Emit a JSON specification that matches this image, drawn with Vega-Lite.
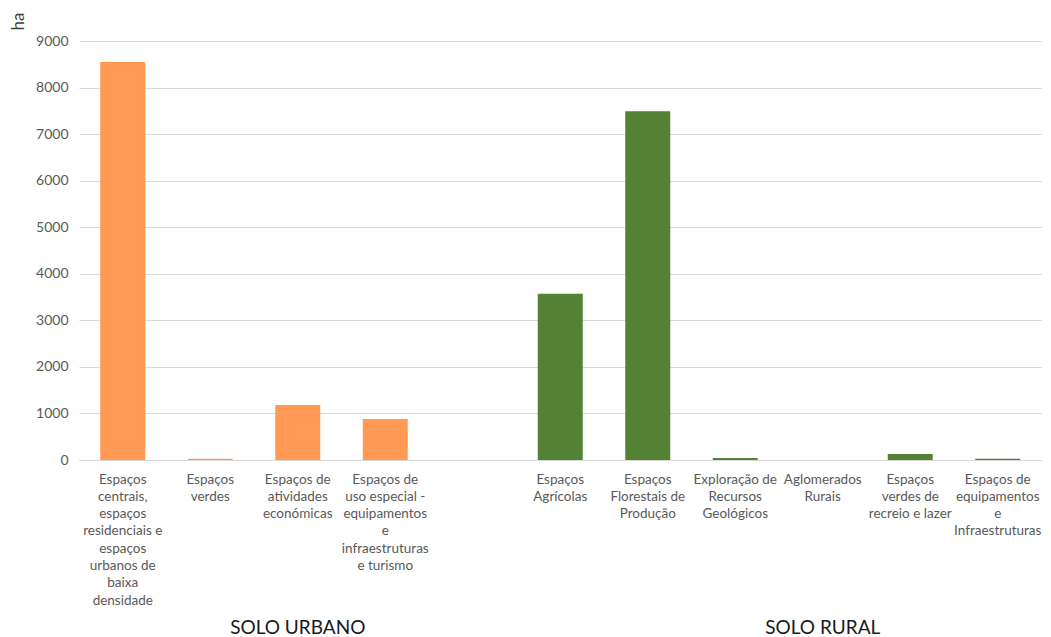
{
  "$schema": "https://vega.github.io/schema/vega-lite/v6.json",
  "width": 962.5,
  "height": 419,
  "autosize": {"type": "none"},
  "padding": {"left": 79, "top": 41, "right": 9.5, "bottom": 177},
  "background": "#ffffff",
  "config": {
    "view": {"stroke": null},
    "font": "Lato",
    "axis": {"labelFont": "Lato", "titleFont": "Lato"}
  },
  "datasets": {
    "areas": [
      {"categoria": "Espaços centrais, espaços residenciais e espaços urbanos de baixa densidade", "solo": "SOLO URBANO", "ha": 8550},
      {"categoria": "Espaços verdes", "solo": "SOLO URBANO", "ha": 25},
      {"categoria": "Espaços de atividades económicas", "solo": "SOLO URBANO", "ha": 1180},
      {"categoria": "Espaços de uso especial - equipamentos e infraestruturas e turismo", "solo": "SOLO URBANO", "ha": 880},
      {"categoria": "Espaços Agrícolas", "solo": "SOLO RURAL", "ha": 3570},
      {"categoria": "Espaços Florestais de Produção", "solo": "SOLO RURAL", "ha": 7490},
      {"categoria": "Exploração de Recursos Geológicos", "solo": "SOLO RURAL", "ha": 45},
      {"categoria": "Aglomerados Rurais", "solo": "SOLO RURAL", "ha": 0},
      {"categoria": "Espaços verdes de recreio e lazer", "solo": "SOLO RURAL", "ha": 130},
      {"categoria": "Espaços de equipamentos e Infraestruturas", "solo": "SOLO RURAL", "ha": 25}
    ],
    "grupos": [
      {"solo": "SOLO URBANO", "categoria": "Espaços de atividades económicas"},
      {"solo": "SOLO RURAL", "categoria": "Aglomerados Rurais"}
    ]
  },
  "layer": [
    {
      "data": {"name": "areas"},
      "mark": {"type": "bar"},
      "encoding": {
        "x": {
          "field": "categoria",
          "type": "nominal",
          "sort": null,
          "scale": {
            "domain": [
              "Espaços centrais, espaços residenciais e espaços urbanos de baixa densidade",
              "Espaços verdes",
              "Espaços de atividades económicas",
              "Espaços de uso especial - equipamentos e infraestruturas e turismo",
              " ",
              "Espaços Agrícolas",
              "Espaços Florestais de Produção",
              "Exploração de Recursos Geológicos",
              "Aglomerados Rurais",
              "Espaços verdes de recreio e lazer",
              "Espaços de equipamentos e Infraestruturas"
            ],
            "paddingInner": 0.486,
            "paddingOuter": 0.243
          },
          "axis": {
            "title": null,
            "labelAngle": 0,
            "ticks": false,
            "domain": true,
            "domainColor": "#d9d9d9",
            "labelColor": "#595959",
            "labelFontSize": 13.5,
            "labelLineHeight": 17.3,
            "labelPadding": 12,
            "labelBaseline": "top",
            "labelAlign": "center",
            "labelLimit": 0,
            "labelOverlap": false,
            "labelExpr": "{'Espaços centrais, espaços residenciais e espaços urbanos de baixa densidade': ['Espaços','centrais,','espaços','residenciais e','espaços','urbanos de','baixa','densidade'], 'Espaços verdes': ['Espaços','verdes'], 'Espaços de atividades económicas': ['Espaços de','atividades','económicas'], 'Espaços de uso especial - equipamentos e infraestruturas e turismo': ['Espaços de','uso especial -','equipamentos','e','infraestruturas','e turismo'], 'Espaços Agrícolas': ['Espaços','Agrícolas'], 'Espaços Florestais de Produção': ['Espaços','Florestais de','Produção'], 'Exploração de Recursos Geológicos': ['Exploração de','Recursos','Geológicos'], 'Aglomerados Rurais': ['Aglomerados','Rurais'], 'Espaços verdes de recreio e lazer': ['Espaços','verdes de','recreio e lazer'], 'Espaços de equipamentos e Infraestruturas': ['Espaços de','equipamentos','e','Infraestruturas']}[datum.value] || ''"
          }
        },
        "y": {
          "field": "ha",
          "type": "quantitative",
          "scale": {"domain": [0, 9000], "nice": false},
          "axis": {
            "title": "ha",
            "titleAngle": -90,
            "titleFontSize": 17,
            "titleFontWeight": "normal",
            "titleColor": "#404040",
            "titleX": -56,
            "titleY": -11,
            "titleAlign": "left",
            "titleBaseline": "alphabetic",
            "values": [0, 1000, 2000, 3000, 4000, 5000, 6000, 7000, 8000, 9000],
            "format": "d",
            "ticks": false,
            "domain": false,
            "grid": true,
            "gridColor": "#d9d9d9",
            "gridWidth": 1,
            "labelColor": "#595959",
            "labelFontSize": 14,
            "labelPadding": 11
          }
        },
        "color": {
          "field": "solo",
          "type": "nominal",
          "scale": {"domain": ["SOLO URBANO", "SOLO RURAL"], "range": ["#ff9955", "#548235"]},
          "legend": null
        }
      }
    },
    {
      "data": {"name": "grupos"},
      "mark": {"type": "text", "fontSize": 19, "color": "#1a1a1a", "baseline": "alphabetic", "align": "center", "dy": 174},
      "encoding": {
        "x": {"field": "categoria", "type": "nominal", "sort": null},
        "y": {"datum": 0, "type": "quantitative"},
        "text": {"field": "solo"}
      }
    }
  ]
}
